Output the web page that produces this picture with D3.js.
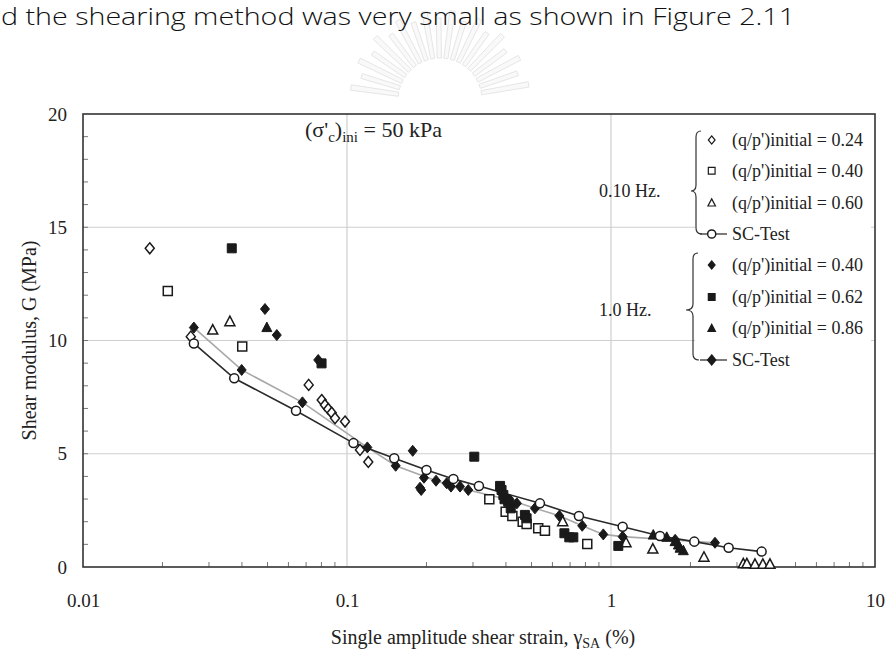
<!DOCTYPE html>
<html>
<head>
<meta charset="utf-8">
<script src="https://cdn.jsdelivr.net/npm/d3@7"></script>
<style>
  body { margin: 0; background: #fff; }
  svg { display: block; }
  text { font-family: "Liberation Serif", "Times New Roman", serif; fill: #222; }
</style>
</head>
<body>
<div id="chart"></div>
<script>
// chart values (strain in %, G in MPa)
const xTicks = [0.01, 0.1, 1, 10];
const yTicks = [0, 5, 10, 15, 20];

// 0.10 Hz, SC-Test (open circles, dark line)
const sc010Strain = [0.0263, 0.0374, 0.0641, 0.1058, 0.151, 0.200, 0.253, 0.316, 0.538, 0.756, 1.107, 1.533, 2.068, 2.79, 3.72];
const sc010G = [9.87, 8.33, 6.90, 5.47, 4.80, 4.28, 3.89, 3.58, 2.81, 2.25, 1.78, 1.37, 1.12, 0.85, 0.68];

// 1.0 Hz, SC-Test (filled diamonds, grey line)
const sc10Strain = [0.0263, 0.0399, 0.0678, 0.1194, 0.1529, 0.2174, 0.288, 0.414, 0.515, 0.637, 0.778, 0.935, 1.107, 2.477];
const sc10G = [10.57, 8.70, 7.27, 5.28, 4.47, 3.81, 3.40, 2.96, 2.59, 2.26, 1.82, 1.44, 1.34, 1.07];

// 0.10 Hz, (q/p')initial = 0.24 (open diamonds)
const q024Strain = [0.0179, 0.0256, 0.0716, 0.0802, 0.0825, 0.0849, 0.0875, 0.0901, 0.0983, 0.112, 0.1204];
const q024G = [14.07, 10.17, 8.04, 7.37, 7.15, 6.98, 6.81, 6.57, 6.42, 5.17, 4.64];

// 0.10 Hz, (q/p')initial = 0.40 (open squares)
const q040oStrain = [0.02095, 0.0401, 0.346, 0.399, 0.423, 0.463, 0.479, 0.530, 0.562, 0.813];
const q040oG = [12.19, 9.73, 2.99, 2.44, 2.25, 2.00, 1.90, 1.71, 1.60, 1.02];

// 0.10 Hz, (q/p')initial = 0.60 (open triangles)
const q060Strain = [0.0310, 0.0360, 0.656, 1.14, 1.44, 2.25, 3.17, 3.27, 3.51, 3.76, 4.0];
const q060G = [10.46, 10.83, 2.00, 1.07, 0.79, 0.43, 0.14, 0.14, 0.12, 0.12, 0.12];

// 1.0 Hz, (q/p')initial = 0.40 (filled diamonds)
const q040fStrain = [0.0489, 0.0542, 0.0778, 0.1774, 0.189, 0.191, 0.1957, 0.2385, 0.2477, 0.268, 0.44, 1.75];
const q040fG = [11.39, 10.24, 9.14, 5.13, 3.50, 3.40, 3.94, 3.70, 3.55, 3.55, 2.81, 1.20];

// 1.0 Hz, (q/p')initial = 0.62 (filled squares)
const q062Strain = [0.0366, 0.0801, 0.3035, 0.380, 0.385, 0.391, 0.395, 0.408, 0.417, 0.472, 0.479, 0.666, 0.695, 0.720, 1.066];
const q062G = [14.07, 8.99, 4.87, 3.58, 3.40, 3.18, 2.99, 2.88, 2.59, 2.30, 2.15, 1.49, 1.31, 1.31, 0.93];

// 1.0 Hz, (q/p')initial = 0.86 (filled triangles)
const q086Strain = [0.0497, 1.446, 1.626, 1.748, 1.80, 1.826, 1.879];
const q086G = [10.57, 1.41, 1.31, 1.12, 0.97, 0.83, 0.72];

const legendLabels = ["(q/p')initial = 0.24", "(q/p')initial = 0.40", "(q/p')initial = 0.60", "SC-Test",
                      "(q/p')initial = 0.40", "(q/p')initial = 0.62", "(q/p')initial = 0.86", "SC-Test"];
const legendShapes = ["diamond", "square", "triangle", "circle", "diamond", "square", "triangle", "diamond"];
const legendFilled = [false, false, false, false, true, true, true, true];

const W = 889, H = 653;
const margin = {top: 114, right: 14, bottom: 86, left: 83};
const width = W - margin.left - margin.right;
const height = H - margin.top - margin.bottom;

const root = d3.select("#chart").append("svg")
    .attr("width", W)
    .attr("height", H);

// page fragment above the figure (faint seal + last line of the text)
const seal = root.append("g").attr("transform", "translate(440,100)");
d3.range(19).forEach(i => {
    const a = (-172 + i * 9) * Math.PI / 180;
    const r0 = 42, r1 = 90 - (i % 2) * 8;
    const w = 0.05;
    const pts = [[r0, a - w], [r1, a - w * 0.6], [r1, a + w * 0.6], [r0, a + w]]
        .map(([r, t]) => [r * Math.cos(t), r * Math.sin(t)]);
    seal.append("path")
        .attr("d", d3.line()(pts) + "Z")
        .attr("fill", "#f9f9f9")
        .attr("stroke", "#e6e6e6")
        .attr("stroke-width", 1);
});

root.append("text")
    .attr("x", 1)
    .attr("y", 25)
    .attr("textLength", 794)
    .attr("lengthAdjust", "spacingAndGlyphs")
    .style("font-family", "'Open Sans', 'Noto Sans', sans-serif")
    .style("font-size", "24px")
    .style("font-weight", 300)
    .style("fill", "#111")
    .text("d the shearing method was very small as shown in Figure 2.11");

const svg = root.append("g")
    .attr("transform", `translate(${margin.left},${margin.top})`);

const x = d3.scaleLog().domain([0.01, 10]).range([0, width]);
const y = d3.scaleLinear().domain([0, 20]).range([height, 0]);

// grid
svg.append("g").selectAll("line")
    .data([0.1, 1])
    .join("line")
    .attr("x1", d => x(d)).attr("x2", d => x(d))
    .attr("y1", 0).attr("y2", height)
    .attr("stroke", "#cfcfcf").attr("stroke-width", 1.2);

svg.append("g").selectAll("line")
    .data([5, 10, 15])
    .join("line")
    .attr("x1", 0).attr("x2", width)
    .attr("y1", d => y(d)).attr("y2", d => y(d))
    .attr("stroke", "#cfcfcf").attr("stroke-width", 1.2);

// minor ticks inside the frame
const minorX = [];
[0.01, 0.1, 1].forEach(dec => d3.range(2, 10).forEach(k => minorX.push(dec * k)));
svg.append("g").selectAll("line")
    .data(minorX)
    .join("line")
    .attr("x1", d => x(d)).attr("x2", d => x(d))
    .attr("y1", height).attr("y2", height - 5)
    .attr("stroke", "#777").attr("stroke-width", 1);

svg.append("g").selectAll("line")
    .data(d3.range(1, 20))
    .join("line")
    .attr("x1", 0).attr("x2", 5)
    .attr("y1", d => y(d)).attr("y2", d => y(d))
    .attr("stroke", "#777").attr("stroke-width", 1);

// legend background hides the grid
svg.append("rect")
    .attr("x", 612).attr("y", 10)
    .attr("width", width - 616).attr("height", 250)
    .attr("fill", "#fff");

// frame
svg.append("rect")
    .attr("width", width).attr("height", height)
    .attr("fill", "none")
    .attr("stroke", "#333").attr("stroke-width", 1.6);

// axes labels
const xAxis = d3.axisBottom(x).tickValues(xTicks).tickSize(0).tickPadding(27)
    .tickFormat(d => d >= 1 ? d3.format("d")(d) : String(d));
svg.append("g")
    .attr("transform", `translate(0,${height})`)
    .call(xAxis)
    .call(g => g.select(".domain").remove())
    .selectAll("text")
    .style("font-family", "'Liberation Serif', serif")
    .style("font-size", "19px")
    .style("fill", "#222");

const yAxis = d3.axisLeft(y).tickValues(yTicks).tickSize(0).tickPadding(16);
svg.append("g")
    .call(yAxis)
    .call(g => g.select(".domain").remove())
    .selectAll("text")
    .style("font-family", "'Liberation Serif', serif")
    .style("font-size", "19px")
    .style("fill", "#222");

const xl = root.append("text")
    .attr("x", margin.left + width / 2 + 4)
    .attr("y", 644)
    .attr("text-anchor", "middle")
    .style("font-size", "20px");
xl.append("tspan").text("Single amplitude shear strain, \u03b3");
xl.append("tspan").attr("dy", 4).style("font-size", "14px").text("SA");
xl.append("tspan").attr("dy", -4).text(" (%)");

root.append("text")
    .attr("transform", `translate(36,${margin.top + height / 2}) rotate(-90)`)
    .attr("text-anchor", "middle")
    .style("font-size", "20px")
    .text("Shear modulus, G (MPa)");

// confining pressure note
const note = svg.append("text")
    .attr("x", 222).attr("y", 23)
    .style("font-size", "22px");
note.append("tspan").text("(\u03c3'");
note.append("tspan").attr("dy", 5).style("font-size", "15px").text("c");
note.append("tspan").attr("dy", -5).text(")");
note.append("tspan").attr("dy", 5).style("font-size", "15px").text("ini");
note.append("tspan").attr("dy", -5).text(" = 50 kPa");

// markers
function shapePath(shape) {
    if (shape === "diamond") return "M0,-5.5L4.5,0L0,5.5L-4.5,0Z";
    if (shape === "square") return "M-4.5,-4.5H4.5V4.5H-4.5Z";
    if (shape === "triangle") return "M0,-5.5L5,4L-5,4Z";
    return d3.symbol(d3.symbolCircle, 64)();
}

function drawPoints(xs, ys, shape, filled) {
    svg.append("g").selectAll("path")
        .data(xs.map((v, i) => [v, ys[i]]))
        .join("path")
        .attr("transform", d => `translate(${x(d[0])},${y(d[1])})`)
        .attr("d", shapePath(shape))
        .attr("fill", filled ? "#1a1a1a" : "#fff")
        .attr("stroke", "#1a1a1a")
        .attr("stroke-width", filled ? 1 : 1.5);
}

const line = d3.line().x(d => x(d[0])).y(d => y(d[1]));

svg.append("path")
    .datum(sc10Strain.map((v, i) => [v, sc10G[i]]))
    .attr("d", line)
    .attr("fill", "none")
    .attr("stroke", "#a8a8a8")
    .attr("stroke-width", 1.6);

svg.append("path")
    .datum(sc010Strain.map((v, i) => [v, sc010G[i]]))
    .attr("d", line)
    .attr("fill", "none")
    .attr("stroke", "#2a2a2a")
    .attr("stroke-width", 1.6);

drawPoints(q024Strain, q024G, "diamond", false);
drawPoints(q040oStrain, q040oG, "square", false);
drawPoints(q060Strain, q060G, "triangle", false);
drawPoints(q040fStrain, q040fG, "diamond", true);
drawPoints(q062Strain, q062G, "square", true);
drawPoints(q086Strain, q086G, "triangle", true);
drawPoints(sc10Strain, sc10G, "diamond", true);
drawPoints(sc010Strain, sc010G, "circle", false);

// legend
const lg = root.append("g");
const rowY = [140, 170.7, 203, 234, 265, 297, 328.3, 360];
const markX = 711.7, textX = 732;

lg.selectAll("text.lab")
    .data(legendLabels)
    .join("text")
    .attr("class", "lab")
    .attr("x", textX)
    .attr("y", (d, i) => rowY[i] + 6)
    .style("font-size", "18px")
    .text(d => d);

[3, 7].forEach(i => {
    lg.append("line")
        .attr("x1", 700).attr("x2", 727)
        .attr("y1", rowY[i]).attr("y2", rowY[i])
        .attr("stroke", "#333").attr("stroke-width", 1.3);
});

lg.selectAll("path.mk")
    .data(legendShapes)
    .join("path")
    .attr("class", "mk")
    .attr("transform", (d, i) => `translate(${markX},${rowY[i]}) scale(${i === 3 || i === 7 ? 0.9 : 0.75})`)
    .attr("d", d => shapePath(d))
    .attr("fill", (d, i) => legendFilled[i] ? "#1a1a1a" : "#fff")
    .attr("stroke", "#1a1a1a")
    .attr("stroke-width", 1.6);

// braces
function brace(top, mid, bottom, xv, depth) {
    const p = d3.path();
    p.moveTo(xv + 5, top);
    p.quadraticCurveTo(xv, top, xv, top + 6);
    p.lineTo(xv, mid - 6);
    p.quadraticCurveTo(xv, mid, xv - depth, mid);
    p.quadraticCurveTo(xv, mid, xv, mid + 6);
    p.lineTo(xv, bottom - 6);
    p.quadraticCurveTo(xv, bottom, xv + 6, bottom);
    return p.toString();
}
lg.append("path")
    .attr("d", brace(131, 191, 234, 696, 5))
    .attr("fill", "none").attr("stroke", "#333").attr("stroke-width", 1.2);
lg.append("path")
    .attr("d", brace(253, 310, 360, 693, 7))
    .attr("fill", "none").attr("stroke", "#333").attr("stroke-width", 1.2);

lg.append("text").attr("x", 599).attr("y", 197).style("font-size", "18px").text("0.10 Hz.");
lg.append("text").attr("x", 599).attr("y", 316).style("font-size", "18px").text("1.0 Hz.");
</script>
</body>
</html>
